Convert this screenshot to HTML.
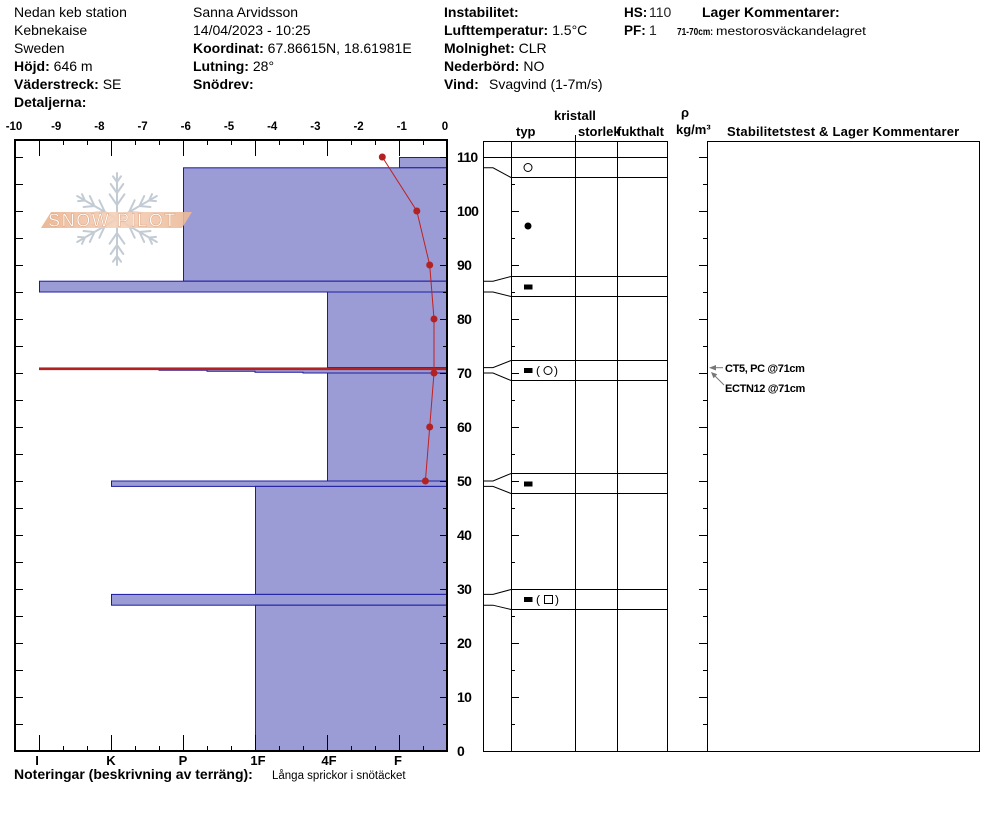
<!DOCTYPE html>
<html><head><meta charset="utf-8"><style>
html,body{margin:0;padding:0;background:#fff;}
svg{display:block;font-family:"Liberation Sans",Arial,sans-serif;}
</style></head><body>
<svg width="994" height="840" viewBox="0 0 994 840" xmlns="http://www.w3.org/2000/svg">
<defs>
<linearGradient id="bg" x1="0" y1="0" x2="1" y2="0">
<stop offset="0" stop-color="#eab08a"/><stop offset="0.5" stop-color="#f5d2bb"/><stop offset="1" stop-color="#ebb896"/>
</linearGradient>
</defs>
<rect width="994" height="840" fill="#fff"/>

<!-- HEADER -->
<g font-size="14" fill="#000">
<text x="14" y="17">Nedan keb station</text>
<text x="14" y="35">Kebnekaise</text>
<text x="14" y="53">Sweden</text>
<text x="14" y="71"><tspan font-weight="bold">Höjd:</tspan> 646 m</text>
<text x="14" y="89"><tspan font-weight="bold">Väderstreck:</tspan> SE</text>
<text x="14" y="107" font-weight="bold">Detaljerna:</text>

<text x="193" y="17">Sanna Arvidsson</text>
<text x="193" y="35">14/04/2023 - 10:25</text>
<text x="193" y="53"><tspan font-weight="bold">Koordinat:</tspan> 67.86615N, 18.61981E</text>
<text x="193" y="71"><tspan font-weight="bold">Lutning:</tspan> 28°</text>
<text x="193" y="89" font-weight="bold">Snödrev:</text>

<text x="444" y="17" font-weight="bold">Instabilitet:</text>
<text x="444" y="35"><tspan font-weight="bold">Lufttemperatur:</tspan> 1.5°C</text>
<text x="444" y="53"><tspan font-weight="bold">Molnighet:</tspan> CLR</text>
<text x="444" y="71"><tspan font-weight="bold">Nederbörd:</tspan> NO</text>
<text x="444" y="89" font-weight="bold">Vind:</text>
<text x="489" y="89">Svagvind (1-7m/s)</text>

<text x="624" y="17" font-weight="bold" font-size="13.5">HS:</text>
<text x="649" y="17" fill="#222">110</text>
<text x="624" y="35" font-weight="bold" font-size="13.5">PF:</text>
<text x="649" y="35" fill="#222">1</text>
<text x="702" y="17" font-weight="bold">Lager Kommentarer:</text>
<text x="677" y="35" font-weight="bold" font-size="10.5" textLength="36" lengthAdjust="spacingAndGlyphs">71-70cm:</text>
<text x="716" y="35" font-size="12" textLength="150" lengthAdjust="spacingAndGlyphs">mestorosväckandelagret</text>
</g>

<!-- LEFT CHART BARS -->
<g fill="#9b9bd6" stroke="#1c1ca0" stroke-width="1">
<rect x="399.5" y="157.5" width="47.5" height="10.3"/>
<rect x="183.5" y="167.8" width="263.5" height="113.4"/>
<rect x="39.5" y="281.2" width="407.5" height="10.8"/>
<rect x="327.5" y="292" width="119.5" height="75.6"/>
<rect x="327.5" y="373" width="119.5" height="108"/>
<polygon points="39.5,368 447,368 447,373 303,373 303,372.3 255,372.3 255,371.3 207,371.3 207,370.3 159,370.3 159,369.3 39.5,369.3"/>
<rect x="111.5" y="481" width="335.5" height="5.4"/>
<rect x="255.5" y="486.4" width="191.5" height="108"/>
<rect x="111.5" y="594.4" width="335.5" height="10.8"/>
<rect x="255.5" y="605.2" width="191.5" height="145.8"/>
</g>
<line x1="39" y1="369" x2="447" y2="369" stroke="#b22222" stroke-width="2.3"/>

<!-- LOGO -->
<g stroke="#c3ccd4" stroke-width="2" stroke-linecap="round" fill="none" transform="translate(117,219)">
<g id="arm"><path d="M0 0V-46M0 -14L-7.4 -24.7M0 -14L7.4 -24.7M0 -26L-6.3 -35M0 -26L6.3 -35M0 -37L-4 -42.7M0 -37L4 -42.7"/></g>
<use href="#arm" transform="rotate(60)"/>
<use href="#arm" transform="rotate(120)"/>
<use href="#arm" transform="rotate(180)"/>
<use href="#arm" transform="rotate(240)"/>
<use href="#arm" transform="rotate(300)"/>
</g>
<polygon points="41,228 51,212 192,212 182,228" fill="url(#bg)" opacity="0.9"/>
<text x="48" y="226.5" font-size="18" fill="#fff" stroke="#d99a72" stroke-width="0.4" letter-spacing="1.6">SNOW PILOT</text>

<!-- TEMPERATURE -->
<polyline points="382.3,157 416.8,211 429.7,265 434,319 434,373 429.7,427 425.4,481" fill="none" stroke="#c02020" stroke-width="1"/>
<g fill="#b22222">
<circle cx="382.3" cy="157" r="3.5"/><circle cx="416.8" cy="211" r="3.5"/><circle cx="429.7" cy="265" r="3.5"/>
<circle cx="434" cy="319" r="3.5"/><circle cx="434" cy="373" r="3.5"/><circle cx="429.7" cy="427" r="3.5"/>
<circle cx="425.4" cy="481" r="3.5"/>
</g>

<!-- LEFT FRAME -->
<g stroke="#000" fill="none">
<path d="M15 139V752M447 139V752M14 140H448M14 751H448" stroke-width="2"/>
<path stroke-width="1" d="M39.5 140v16M63.5 140v5M87.5 140v5M111.5 140v16M135.5 140v5M159.5 140v5M183.5 140v16M207.5 140v5M231.5 140v5M255.5 140v16M279.5 140v5M303.5 140v5M327.5 140v16M351.5 140v5M375.5 140v5M399.5 140v16M423.5 140v5
M39.5 751v-16M63.5 751v-5M87.5 751v-5M111.5 751v-16M135.5 751v-5M159.5 751v-5M183.5 751v-16M207.5 751v-5M231.5 751v-5M255.5 751v-16M279.5 751v-5M303.5 751v-5M327.5 751v-16M351.5 751v-5M375.5 751v-5M399.5 751v-16M423.5 751v-5"/>
<path stroke-width="1" d="M15 724.5h8M15 697.5h8M15 670.5h8M15 643.5h8M15 616.5h8M15 589.5h8M15 562.5h8M15 535.5h8M15 508.5h8M15 481.5h8M15 454.5h8M15 427.5h8M15 400.5h8M15 373.5h8M15 346.5h8M15 319.5h8M15 292.5h8M15 265.5h8M15 238.5h8M15 211.5h8M15 184.5h8M15 157.5h8
M447 724.5h-4M447 697.5h-7M447 670.5h-4M447 643.5h-7M447 616.5h-4M447 589.5h-7M447 562.5h-4M447 535.5h-7M447 508.5h-4M447 481.5h-7M447 454.5h-4M447 427.5h-7M447 400.5h-4M447 373.5h-7M447 346.5h-4M447 319.5h-7M447 292.5h-4M447 265.5h-7M447 238.5h-4M447 211.5h-7M447 184.5h-4M447 157.5h-7"/>
</g>

<!-- TOP LABELS -->
<g font-size="11.5" font-weight="bold" text-anchor="middle" fill="#000">
<text x="14" y="130">-10</text><text x="56.2" y="130">-9</text><text x="99.4" y="130">-8</text><text x="142.6" y="130">-7</text>
<text x="185.8" y="130">-6</text><text x="229" y="130">-5</text><text x="272.2" y="130">-4</text><text x="315.4" y="130">-3</text>
<text x="358.6" y="130">-2</text><text x="401.8" y="130">-1</text><text x="445" y="130">0</text>
</g>
<!-- BOTTOM LABELS -->
<g font-size="13" font-weight="bold" text-anchor="middle" fill="#000">
<text x="37" y="765">I</text><text x="111" y="765">K</text><text x="183" y="765">P</text>
<text x="258" y="765">1F</text><text x="329" y="765">4F</text><text x="398" y="765">F</text>
</g>
<!-- Y LABELS -->
<g font-size="14" font-weight="bold" letter-spacing="-0.7" fill="#000">
<text x="457" y="756">0</text><text x="457" y="702">10</text><text x="457" y="648">20</text><text x="457" y="594">30</text>
<text x="457" y="540">40</text><text x="457" y="486">50</text><text x="457" y="432">60</text><text x="457" y="378">70</text>
<text x="457" y="324">80</text><text x="457" y="270">90</text><text x="457" y="216">100</text><text x="457" y="162">110</text>
</g>

<g font-size="14" fill="#000">
<text x="14" y="779"><tspan font-weight="bold">Noteringar (beskrivning av terräng):</tspan></text>
<text x="272" y="779" font-size="11.5">Långa sprickor i snötäcket</text>
</g>

<!-- RIGHT TABLE -->
<g font-size="13" font-weight="bold" fill="#000">
<text x="554" y="120">kristall</text>
<text x="516" y="136">typ</text>
<text x="578" y="136">storlek</text>
<text x="617" y="136">fukthalt</text>
<text x="685" y="117" text-anchor="middle">ρ</text>
<text x="676" y="134">kg/m³</text>
<text x="727" y="136" letter-spacing="0.2">Stabilitetstest &amp; Lager Kommentarer</text>
</g>
<g stroke="#000" stroke-width="1" fill="none">
<path d="M575.5 135V141"/>
<path d="M483.5 141V751M511.5 141V751M575.5 141V751M617.5 141V751M667.5 141V751M707.5 141V751M979.5 141V751.5"/>
<path d="M483 141.5H668M707 141.5H980M483 751.5H980M483 157.5H668"/>
<path d="M511 177.5H668M511 276.5H668M511 296.5H668M511 360.5H668M511 380.5H668M511 473.5H668M511 493.5H668M511 589.5H668M511 609.5H668"/>
<path d="M483 167.8H493L511 177.5M483 281.2H493L511 276.5M483 292H493L511 296.5M483 367.6H493L511 360.5M483 373H493L511 380.5M483 481H493L511 473.5M483 486.4H493L511 493.5M483 594.4H493L511 589.5M483 605.2H493L511 609.5"/>
<path d="M511 724.5h4M511 697.5h8M511 670.5h4M511 643.5h8M511 616.5h4M511 589.5h8M511 562.5h4M511 535.5h8M511 508.5h4M511 481.5h8M511 454.5h4M511 427.5h8M511 400.5h4M511 373.5h8M511 346.5h4M511 319.5h8M511 292.5h4M511 265.5h8M511 238.5h4M511 211.5h8M511 184.5h4
M707 724.5h-4M707 697.5h-8M707 670.5h-4M707 643.5h-8M707 616.5h-4M707 589.5h-8M707 562.5h-4M707 535.5h-8M707 508.5h-4M707 481.5h-8M707 454.5h-4M707 427.5h-8M707 400.5h-4M707 373.5h-8M707 346.5h-4M707 319.5h-8M707 292.5h-4M707 265.5h-8M707 238.5h-4M707 211.5h-8M707 184.5h-4M707 157.5h-8"/>
<circle cx="528" cy="167.5" r="4"/>
<circle cx="548" cy="370.5" r="4"/>
<rect x="544.5" y="595.5" width="8" height="8"/>
</g>
<g fill="#000">
<circle cx="528" cy="226" r="3.5"/>
<rect x="524" y="284.5" width="8.5" height="5"/>
<rect x="524" y="368" width="8.5" height="5"/>
<rect x="524" y="481.5" width="8.5" height="5"/>
<rect x="524" y="597" width="8.5" height="5"/>
<text x="536" y="374.5" font-size="12">(</text><text x="554" y="374.5" font-size="12">)</text>
<text x="536" y="603.5" font-size="12">(</text><text x="555" y="603.5" font-size="12">)</text>
</g>

<!-- STABILITY ANNOTATIONS -->
<g stroke="#777" stroke-width="1" fill="none">
<path d="M723 367.7H712"/>
<path d="M724 385L714 375"/>
</g>
<g fill="#777">
<polygon points="709,367.7 716,365 716,370.5"/>
<polygon points="711,372 717.3,374.3 713.5,378.2"/>
</g>
<g font-size="11" font-weight="bold" letter-spacing="-0.35" fill="#000">
<text x="725" y="372">CT5, PC @71cm</text>
<text x="725" y="392">ECTN12 @71cm</text>
</g>
</svg>
</body></html>
